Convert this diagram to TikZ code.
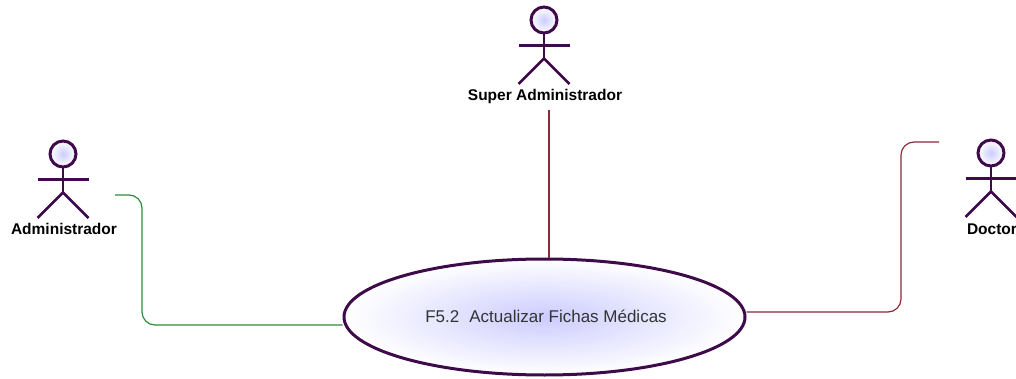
\documentclass[tikz,border=0pt]{standalone}
\usepackage{fontspec}
\setmainfont{Liberation Sans}
\usepackage{tikz}
\usetikzlibrary{shapes.geometric}
\definecolor{umlline}{HTML}{3F0A4A}
\definecolor{umlfill}{HTML}{CCCCFF}
\definecolor{linkred}{HTML}{8B2A3A}
\definecolor{linkgreen}{HTML}{2E8B3A}
\tikzset{
  actorhead/.style = {circle, draw=umlline, line width=3pt, inner sep=0pt,
    minimum size=26pt, inner color=umlfill, outer color=white},% cabeza del actor
  actorline/.style = {draw=umlline, line width=2.5pt},
  actorname/.style = {font=\fontsize{15.5}{17}\selectfont\bfseries, inner sep=0pt,
    text=black, anchor=base},
  usecase/.style = {ellipse, draw=umlline, line width=3pt, inner sep=0pt,
    minimum width=401pt, minimum height=116pt, inner color=umlfill, outer color=white,
    font=\fontsize{17}{19}\selectfont, text=black!80},% caso de uso
  link/.style = {line width=1.2pt, rounded corners=13pt}
}
\begin{document}
\begin{tikzpicture}[x=1pt,y=-1pt]
\useasboundingbox (0,0) rectangle (1016,379);
\foreach \nm/\x/\y/\txt in {admin/63/154/Administrador,super/544/20/Super Administrador,doctor/991/153/Doctor}{
  \node [actorhead] (head\nm) at (\x,\y) {};
  \coordinate (arml\nm) at (\x-25.5,\y+25.5);
  \coordinate (armr\nm) at (\x+25.5,\y+25.5);
  \coordinate (hip\nm) at (\x,\y+38.5);
  \coordinate (footl\nm) at (\x-25.5,\y+64);
  \coordinate (footr\nm) at (\x+25.5,\y+64);
  \draw [actorline] (head\nm.south) -- (hip\nm);
  \draw [actorline] (arml\nm) -- (armr\nm);
  \draw [actorline] (footl\nm) -- (hip\nm) -- (footr\nm);
  \node [actorname] (name\nm) at (\x+1,\y+81) {\txt};
}
\node [usecase] (fichas) at (544.5,317) {\hspace{3pt}\raisebox{2pt}{F5.2\hspace{10pt}Actualizar Fichas Médicas}};
% extremos libres de las lineas
\coordinate (adminend) at (115,195);
\coordinate (superend) at (549,110);
\coordinate (doctorend) at (939,142);
\coordinate (adminbend) at (142,195);
\coordinate (adminfoot) at (142,325);
\coordinate (doctorbend) at (901,142);
\coordinate (doctorfoot) at (901,312);
\draw [link, linkgreen] (adminend) -- (adminbend) -- (adminfoot) -- (fichas.west |- adminfoot);
\draw [link, linkred] (superend) -- (superend |- fichas.north);
\draw [link, linkred] (doctorend) -- (doctorbend) -- (doctorfoot) -- (fichas.east |- doctorfoot);
\end{tikzpicture}
\end{document}
